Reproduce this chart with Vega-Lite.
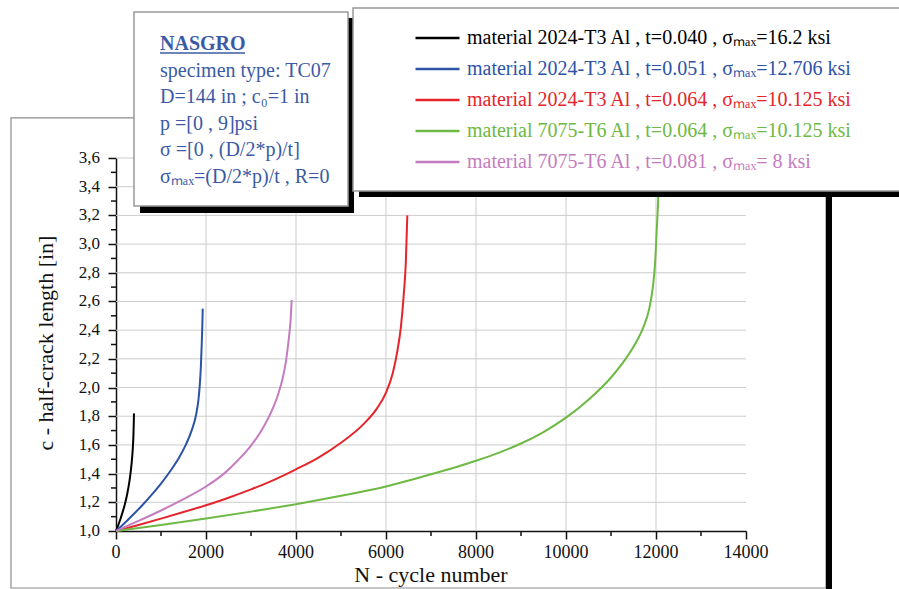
{
  "$schema": "https://vega.github.io/schema/vega-lite/v6.json",
  "width": 630,
  "height": 373,
  "autosize": {"type": "none"},
  "padding": {"left": 116, "top": 158, "right": 153, "bottom": 58},
  "background": "white",
  "config": {
    "view": {"stroke": null},
    "font": "Liberation Serif",
    "axisX": {
      "tickCount": 7,
      "labelExpr": "''",
      "grid": false,
      "tickSize": 8, "tickWidth": 1.5, "tickColor": "#111", "domainColor": "#111", "domainWidth": 1.5
    },
    "axisY": {
      "tickCount": 13,
      "labelExpr": "''",
      "grid": false,
      "tickSize": 8, "tickWidth": 1.5, "tickColor": "#111", "domainColor": "#111", "domainWidth": 1.5
    },
    "legend": {
      "orient": "none",
      "legendX": 298,
      "legendY": -135.5,
      "padding": 0,
      "title": null,
      "symbolType": "stroke",
      "symbolSize": 1936,
      "symbolStrokeWidth": 2.5,
      "labelFont": "Liberation Serif",
      "labelFontSize": 20,
      "labelLimit": 700,
      "labelOffset": 6,
      "clipHeight": 31,
      "rowPadding": 0
    }
  },
  "datasets": {
    "curves": [
      {"curve": "material 2024-T3 Al , t=0.040 ,  σₘₐₓ=16.2 ksi", "N": 0, "c": 1.0},
      {"curve": "material 2024-T3 Al , t=0.040 ,  σₘₐₓ=16.2 ksi", "N": 50, "c": 1.04},
      {"curve": "material 2024-T3 Al , t=0.040 ,  σₘₐₓ=16.2 ksi", "N": 100, "c": 1.085},
      {"curve": "material 2024-T3 Al , t=0.040 ,  σₘₐₓ=16.2 ksi", "N": 150, "c": 1.135},
      {"curve": "material 2024-T3 Al , t=0.040 ,  σₘₐₓ=16.2 ksi", "N": 200, "c": 1.19},
      {"curve": "material 2024-T3 Al , t=0.040 ,  σₘₐₓ=16.2 ksi", "N": 250, "c": 1.26},
      {"curve": "material 2024-T3 Al , t=0.040 ,  σₘₐₓ=16.2 ksi", "N": 300, "c": 1.35},
      {"curve": "material 2024-T3 Al , t=0.040 ,  σₘₐₓ=16.2 ksi", "N": 340, "c": 1.45},
      {"curve": "material 2024-T3 Al , t=0.040 ,  σₘₐₓ=16.2 ksi", "N": 370, "c": 1.56},
      {"curve": "material 2024-T3 Al , t=0.040 ,  σₘₐₓ=16.2 ksi", "N": 388, "c": 1.67},
      {"curve": "material 2024-T3 Al , t=0.040 ,  σₘₐₓ=16.2 ksi", "N": 400, "c": 1.82},
      {"curve": "material 2024-T3 Al , t=0.051 , σₘₐₓ=12.706 ksi", "N": 0, "c": 1.0},
      {"curve": "material 2024-T3 Al , t=0.051 , σₘₐₓ=12.706 ksi", "N": 200, "c": 1.058},
      {"curve": "material 2024-T3 Al , t=0.051 , σₘₐₓ=12.706 ksi", "N": 400, "c": 1.12},
      {"curve": "material 2024-T3 Al , t=0.051 , σₘₐₓ=12.706 ksi", "N": 600, "c": 1.185},
      {"curve": "material 2024-T3 Al , t=0.051 , σₘₐₓ=12.706 ksi", "N": 800, "c": 1.255},
      {"curve": "material 2024-T3 Al , t=0.051 , σₘₐₓ=12.706 ksi", "N": 1000, "c": 1.33},
      {"curve": "material 2024-T3 Al , t=0.051 , σₘₐₓ=12.706 ksi", "N": 1200, "c": 1.415},
      {"curve": "material 2024-T3 Al , t=0.051 , σₘₐₓ=12.706 ksi", "N": 1400, "c": 1.51},
      {"curve": "material 2024-T3 Al , t=0.051 , σₘₐₓ=12.706 ksi", "N": 1550, "c": 1.6},
      {"curve": "material 2024-T3 Al , t=0.051 , σₘₐₓ=12.706 ksi", "N": 1680, "c": 1.7},
      {"curve": "material 2024-T3 Al , t=0.051 , σₘₐₓ=12.706 ksi", "N": 1780, "c": 1.81},
      {"curve": "material 2024-T3 Al , t=0.051 , σₘₐₓ=12.706 ksi", "N": 1830, "c": 1.91},
      {"curve": "material 2024-T3 Al , t=0.051 , σₘₐₓ=12.706 ksi", "N": 1860, "c": 2.01},
      {"curve": "material 2024-T3 Al , t=0.051 , σₘₐₓ=12.706 ksi", "N": 1885, "c": 2.14},
      {"curve": "material 2024-T3 Al , t=0.051 , σₘₐₓ=12.706 ksi", "N": 1905, "c": 2.3},
      {"curve": "material 2024-T3 Al , t=0.051 , σₘₐₓ=12.706 ksi", "N": 1918, "c": 2.43},
      {"curve": "material 2024-T3 Al , t=0.051 , σₘₐₓ=12.706 ksi", "N": 1928, "c": 2.55},
      {"curve": "material 2024-T3 Al , t=0.064 , σₘₐₓ=10.125 ksi", "N": 0, "c": 1.0},
      {"curve": "material 2024-T3 Al , t=0.064 , σₘₐₓ=10.125 ksi", "N": 500, "c": 1.042},
      {"curve": "material 2024-T3 Al , t=0.064 , σₘₐₓ=10.125 ksi", "N": 1000, "c": 1.086},
      {"curve": "material 2024-T3 Al , t=0.064 , σₘₐₓ=10.125 ksi", "N": 1500, "c": 1.132},
      {"curve": "material 2024-T3 Al , t=0.064 , σₘₐₓ=10.125 ksi", "N": 2000, "c": 1.18},
      {"curve": "material 2024-T3 Al , t=0.064 , σₘₐₓ=10.125 ksi", "N": 2500, "c": 1.232},
      {"curve": "material 2024-T3 Al , t=0.064 , σₘₐₓ=10.125 ksi", "N": 3000, "c": 1.29},
      {"curve": "material 2024-T3 Al , t=0.064 , σₘₐₓ=10.125 ksi", "N": 3500, "c": 1.355},
      {"curve": "material 2024-T3 Al , t=0.064 , σₘₐₓ=10.125 ksi", "N": 4000, "c": 1.43},
      {"curve": "material 2024-T3 Al , t=0.064 , σₘₐₓ=10.125 ksi", "N": 4500, "c": 1.512},
      {"curve": "material 2024-T3 Al , t=0.064 , σₘₐₓ=10.125 ksi", "N": 5000, "c": 1.615},
      {"curve": "material 2024-T3 Al , t=0.064 , σₘₐₓ=10.125 ksi", "N": 5500, "c": 1.745},
      {"curve": "material 2024-T3 Al , t=0.064 , σₘₐₓ=10.125 ksi", "N": 5800, "c": 1.855},
      {"curve": "material 2024-T3 Al , t=0.064 , σₘₐₓ=10.125 ksi", "N": 6000, "c": 1.965},
      {"curve": "material 2024-T3 Al , t=0.064 , σₘₐₓ=10.125 ksi", "N": 6150, "c": 2.1},
      {"curve": "material 2024-T3 Al , t=0.064 , σₘₐₓ=10.125 ksi", "N": 6250, "c": 2.25},
      {"curve": "material 2024-T3 Al , t=0.064 , σₘₐₓ=10.125 ksi", "N": 6330, "c": 2.42},
      {"curve": "material 2024-T3 Al , t=0.064 , σₘₐₓ=10.125 ksi", "N": 6390, "c": 2.63},
      {"curve": "material 2024-T3 Al , t=0.064 , σₘₐₓ=10.125 ksi", "N": 6440, "c": 2.87},
      {"curve": "material 2024-T3 Al , t=0.064 , σₘₐₓ=10.125 ksi", "N": 6474, "c": 3.2},
      {"curve": "material 7075-T6 Al , t=0.064 , σₘₐₓ=10.125 ksi", "N": 0, "c": 1.0},
      {"curve": "material 7075-T6 Al , t=0.064 , σₘₐₓ=10.125 ksi", "N": 1000, "c": 1.042},
      {"curve": "material 7075-T6 Al , t=0.064 , σₘₐₓ=10.125 ksi", "N": 2000, "c": 1.087},
      {"curve": "material 7075-T6 Al , t=0.064 , σₘₐₓ=10.125 ksi", "N": 3000, "c": 1.135},
      {"curve": "material 7075-T6 Al , t=0.064 , σₘₐₓ=10.125 ksi", "N": 4000, "c": 1.187},
      {"curve": "material 7075-T6 Al , t=0.064 , σₘₐₓ=10.125 ksi", "N": 5000, "c": 1.245},
      {"curve": "material 7075-T6 Al , t=0.064 , σₘₐₓ=10.125 ksi", "N": 6000, "c": 1.31},
      {"curve": "material 7075-T6 Al , t=0.064 , σₘₐₓ=10.125 ksi", "N": 7000, "c": 1.395},
      {"curve": "material 7075-T6 Al , t=0.064 , σₘₐₓ=10.125 ksi", "N": 8000, "c": 1.49},
      {"curve": "material 7075-T6 Al , t=0.064 , σₘₐₓ=10.125 ksi", "N": 8500, "c": 1.545},
      {"curve": "material 7075-T6 Al , t=0.064 , σₘₐₓ=10.125 ksi", "N": 9000, "c": 1.61},
      {"curve": "material 7075-T6 Al , t=0.064 , σₘₐₓ=10.125 ksi", "N": 9500, "c": 1.69},
      {"curve": "material 7075-T6 Al , t=0.064 , σₘₐₓ=10.125 ksi", "N": 10000, "c": 1.79},
      {"curve": "material 7075-T6 Al , t=0.064 , σₘₐₓ=10.125 ksi", "N": 10500, "c": 1.915},
      {"curve": "material 7075-T6 Al , t=0.064 , σₘₐₓ=10.125 ksi", "N": 11000, "c": 2.07},
      {"curve": "material 7075-T6 Al , t=0.064 , σₘₐₓ=10.125 ksi", "N": 11348, "c": 2.21},
      {"curve": "material 7075-T6 Al , t=0.064 , σₘₐₓ=10.125 ksi", "N": 11600, "c": 2.34},
      {"curve": "material 7075-T6 Al , t=0.064 , σₘₐₓ=10.125 ksi", "N": 11718, "c": 2.42},
      {"curve": "material 7075-T6 Al , t=0.064 , σₘₐₓ=10.125 ksi", "N": 11850, "c": 2.55},
      {"curve": "material 7075-T6 Al , t=0.064 , σₘₐₓ=10.125 ksi", "N": 11930, "c": 2.7},
      {"curve": "material 7075-T6 Al , t=0.064 , σₘₐₓ=10.125 ksi", "N": 11978, "c": 2.86},
      {"curve": "material 7075-T6 Al , t=0.064 , σₘₐₓ=10.125 ksi", "N": 12015, "c": 3.09},
      {"curve": "material 7075-T6 Al , t=0.064 , σₘₐₓ=10.125 ksi", "N": 12052, "c": 3.33},
      {"curve": "material 7075-T6 Al , t=0.064 , σₘₐₓ=10.125 ksi", "N": 12065, "c": 3.45},
      {"curve": "material 7075-T6 Al , t=0.081 , σₘₐₓ= 8 ksi", "N": 0, "c": 1.0},
      {"curve": "material 7075-T6 Al , t=0.081 , σₘₐₓ= 8 ksi", "N": 500, "c": 1.07},
      {"curve": "material 7075-T6 Al , t=0.081 , σₘₐₓ= 8 ksi", "N": 1000, "c": 1.143},
      {"curve": "material 7075-T6 Al , t=0.081 , σₘₐₓ= 8 ksi", "N": 1500, "c": 1.222},
      {"curve": "material 7075-T6 Al , t=0.081 , σₘₐₓ= 8 ksi", "N": 2000, "c": 1.31},
      {"curve": "material 7075-T6 Al , t=0.081 , σₘₐₓ= 8 ksi", "N": 2400, "c": 1.4},
      {"curve": "material 7075-T6 Al , t=0.081 , σₘₐₓ= 8 ksi", "N": 2700, "c": 1.49},
      {"curve": "material 7075-T6 Al , t=0.081 , σₘₐₓ= 8 ksi", "N": 3000, "c": 1.595},
      {"curve": "material 7075-T6 Al , t=0.081 , σₘₐₓ= 8 ksi", "N": 3250, "c": 1.71},
      {"curve": "material 7075-T6 Al , t=0.081 , σₘₐₓ= 8 ksi", "N": 3450, "c": 1.83},
      {"curve": "material 7075-T6 Al , t=0.081 , σₘₐₓ= 8 ksi", "N": 3600, "c": 1.95},
      {"curve": "material 7075-T6 Al , t=0.081 , σₘₐₓ= 8 ksi", "N": 3700, "c": 2.06},
      {"curve": "material 7075-T6 Al , t=0.081 , σₘₐₓ= 8 ksi", "N": 3780, "c": 2.19},
      {"curve": "material 7075-T6 Al , t=0.081 , σₘₐₓ= 8 ksi", "N": 3840, "c": 2.34},
      {"curve": "material 7075-T6 Al , t=0.081 , σₘₐₓ= 8 ksi", "N": 3880, "c": 2.47},
      {"curve": "material 7075-T6 Al , t=0.081 , σₘₐₓ= 8 ksi", "N": 3904, "c": 2.61}
    ]
  },
  "layer": [
    {
      "data": {"values": [{"N": 2000}, {"N": 4000}, {"N": 6000}, {"N": 8000}, {"N": 10000}, {"N": 12000}]},
      "mark": {"type": "rule", "stroke": "#cccccc", "strokeWidth": 1},
      "encoding": {
        "x": {"field": "N", "type": "quantitative", "title": null, "scale": {"domain": [0, 14000], "nice": false, "zero": false}},
        "y": {"datum": 1.0, "type": "quantitative", "title": null, "scale": {"domain": [1.0, 3.6], "nice": false, "zero": false}},
        "y2": {"datum": 3.6}
      }
    },
    {
      "data": {"values": [{"c": 1.2}, {"c": 1.4}, {"c": 1.6}, {"c": 1.8}, {"c": 2.0}, {"c": 2.2}, {"c": 2.4}, {"c": 2.6}, {"c": 2.8}, {"c": 3.0}, {"c": 3.2}, {"c": 3.4}, {"c": 3.6}]},
      "mark": {"type": "rule", "stroke": "#cccccc", "strokeWidth": 1},
      "encoding": {
        "y": {"field": "c", "type": "quantitative", "title": null}
      }
    },
    {
      "data": {"name": "curves"},
      "mark": {"type": "line", "strokeWidth": 2, "interpolate": "monotone"},
      "encoding": {
        "x": {"field": "N", "type": "quantitative", "title": null},
        "y": {"field": "c", "type": "quantitative", "title": null},
        "color": {
          "field": "curve", "type": "nominal",
          "scale": {
            "domain": [
              "material 2024-T3 Al , t=0.040 ,  σₘₐₓ=16.2 ksi",
              "material 2024-T3 Al , t=0.051 , σₘₐₓ=12.706 ksi",
              "material 2024-T3 Al , t=0.064 , σₘₐₓ=10.125 ksi",
              "material 7075-T6 Al , t=0.064 , σₘₐₓ=10.125 ksi",
              "material 7075-T6 Al , t=0.081 , σₘₐₓ= 8 ksi"
            ],
            "range": ["#000000", "#2d53a6", "#e5252b", "#6db943", "#c47cc0"]
          },
          "legend": {
            "encode": {"labels": {"update": {"fill": {"scale": "color", "field": "value"}}}}
          }
        },
        "order": {"field": "N", "type": "quantitative"}
      }
    },
    {
      "data": {"values": [{"N": 1000}, {"N": 3000}, {"N": 5000}, {"N": 7000}, {"N": 9000}, {"N": 11000}, {"N": 13000}]},
      "mark": {"type": "rule", "stroke": "#111111", "strokeWidth": 1.5},
      "encoding": {
        "x": {"field": "N", "type": "quantitative", "title": null},
        "y": {"datum": 1.0, "type": "quantitative"},
        "y2": {"datum": 0.965}
      }
    },
    {
      "data": {"values": [{"c": 1.1}, {"c": 1.3}, {"c": 1.5}, {"c": 1.7}, {"c": 1.9}, {"c": 2.1}, {"c": 2.3}, {"c": 2.5}, {"c": 2.7}, {"c": 2.9}, {"c": 3.1}, {"c": 3.3}, {"c": 3.5}]},
      "mark": {"type": "tick", "orient": "horizontal", "color": "#111111", "size": 5, "thickness": 1.5, "opacity": 1},
      "encoding": {
        "x": {"datum": -56, "type": "quantitative"},
        "y": {"field": "c", "type": "quantitative", "title": null}
      }
    },
    {
      "data": {"values": [{"N": 0, "t": "0"}, {"N": 2000, "t": "2000"}, {"N": 4000, "t": "4000"}, {"N": 6000, "t": "6000"}, {"N": 8000, "t": "8000"}, {"N": 10000, "t": "10000"}, {"N": 12000, "t": "12000"}, {"N": 14000, "t": "14000"}]},
      "mark": {"type": "text", "align": "center", "baseline": "middle", "font": "Liberation Serif", "fontSize": 18, "color": "#111111"},
      "encoding": {
        "x": {"field": "N", "type": "quantitative", "title": null},
        "y": {"datum": 0.85, "type": "quantitative"},
        "text": {"field": "t"}
      }
    },
    {
      "data": {"values": [{"c": 1.0, "t": "1,0"}, {"c": 1.2, "t": "1,2"}, {"c": 1.4, "t": "1,4"}, {"c": 1.6, "t": "1,6"}, {"c": 1.8, "t": "1,8"}, {"c": 2.0, "t": "2,0"}, {"c": 2.2, "t": "2,2"}, {"c": 2.4, "t": "2,4"}, {"c": 2.6, "t": "2,6"}, {"c": 2.8, "t": "2,8"}, {"c": 3.0, "t": "3,0"}, {"c": 3.2, "t": "3,2"}, {"c": 3.4, "t": "3,4"}, {"c": 3.6, "t": "3,6"}]},
      "mark": {"type": "text", "align": "right", "baseline": "middle", "font": "Liberation Serif", "fontSize": 17, "color": "#111111"},
      "encoding": {
        "x": {"datum": -356, "type": "quantitative"},
        "y": {"field": "c", "type": "quantitative", "title": null},
        "text": {"field": "t"}
      }
    },
    {
      "data": {"values": [{"t": "N - cycle number"}]},
      "mark": {"type": "text", "align": "center", "baseline": "middle", "font": "Liberation Serif", "fontSize": 22, "color": "#111111"},
      "encoding": {
        "x": {"datum": 7000, "type": "quantitative"},
        "y": {"datum": 0.69, "type": "quantitative"},
        "text": {"field": "t"}
      }
    },
    {
      "data": {"values": [{"t": "c - half-crack length [in]"}]},
      "mark": {"type": "text", "align": "center", "baseline": "middle", "angle": 270, "font": "Liberation Serif", "fontSize": 22, "color": "#111111"},
      "encoding": {
        "x": {"datum": -1556, "type": "quantitative"},
        "y": {"datum": 2.31, "type": "quantitative"},
        "text": {"field": "t"}
      }
    },
    {
      "data": {"values": [{}]},
      "mark": {"type": "rect", "fill": "transparent", "stroke": "#8c8c8c", "strokeWidth": 1.2},
      "encoding": {
        "x": {"datum": -2333, "type": "quantitative"},
        "x2": {"datum": 15778},
        "y": {"datum": 3.879, "type": "quantitative"},
        "y2": {"datum": 0.6027}
      }
    },
    {
      "data": {"values": [{}]},
      "mark": {"type": "rect", "fill": "#000000"},
      "encoding": {
        "x": {"datum": 15778, "type": "quantitative"},
        "x2": {"datum": 15911},
        "y": {"datum": 3.837, "type": "quantitative"},
        "y2": {"datum": 0.4}
      }
    },
    {
      "data": {"values": [{}]},
      "mark": {"type": "rect", "fill": "#000000"},
      "encoding": {
        "x": {"datum": 533, "type": "quantitative"},
        "x2": {"datum": 5289},
        "y": {"datum": 4.576, "type": "quantitative"},
        "y2": {"datum": 3.217}
      }
    },
    {
      "data": {"values": [{}]},
      "mark": {"type": "rect", "fill": "#ffffff", "stroke": "#999999", "strokeWidth": 1.5},
      "encoding": {
        "x": {"datum": 400, "type": "quantitative"},
        "x2": {"datum": 5156},
        "y": {"datum": 4.618, "type": "quantitative"},
        "y2": {"datum": 3.265}
      }
    },
    {
      "data": {"values": [{}]},
      "mark": {"type": "text", "align": "left", "baseline": "alphabetic", "font": "Liberation Serif", "fontSize": 20, "fontWeight": "bold", "color": "#3b5aa5"},
      "encoding": {
        "x": {"datum": 978, "type": "quantitative"},
        "y": {"datum": 4.353, "type": "quantitative"},
        "text": {"value": "NASGRO"}
      }
    },
    {
      "data": {"values": [{}]},
      "mark": {"type": "rule", "color": "#3b5aa5", "strokeWidth": 1.5},
      "encoding": {
        "x": {"datum": 978, "type": "quantitative"},
        "x2": {"datum": 2867},
        "y": {"datum": 4.332, "type": "quantitative"}
      }
    },
    {
      "data": {"values": [{}]},
      "mark": {"type": "text", "align": "left", "baseline": "alphabetic", "font": "Liberation Serif", "fontSize": 20, "color": "#3b5aa5", "lineHeight": 26.5},
      "encoding": {
        "x": {"datum": 978, "type": "quantitative"},
        "y": {"datum": 4.165, "type": "quantitative"},
        "text": {"value": ["specimen type: TC07", "D=144 in ; c₀=1 in", "p =[0 , 9]psi", "σ =[0 , (D/2*p)/t]", "σₘₐₓ=(D/2*p)/t , R=0"]}
      }
    },
    {
      "data": {"values": [{}]},
      "mark": {"type": "rect", "fill": "#000000"},
      "encoding": {
        "x": {"datum": 5400, "type": "quantitative"},
        "x2": {"datum": 17667},
        "y": {"datum": 4.604, "type": "quantitative"},
        "y2": {"datum": 3.328}
      }
    },
    {
      "data": {"values": [{}]},
      "mark": {"type": "rect", "fill": "#ffffff", "stroke": "#999999", "strokeWidth": 1.5},
      "encoding": {
        "x": {"datum": 5267, "type": "quantitative"},
        "x2": {"datum": 17533},
        "y": {"datum": 4.646, "type": "quantitative"},
        "y2": {"datum": 3.37}
      }
    }
  ]
}
